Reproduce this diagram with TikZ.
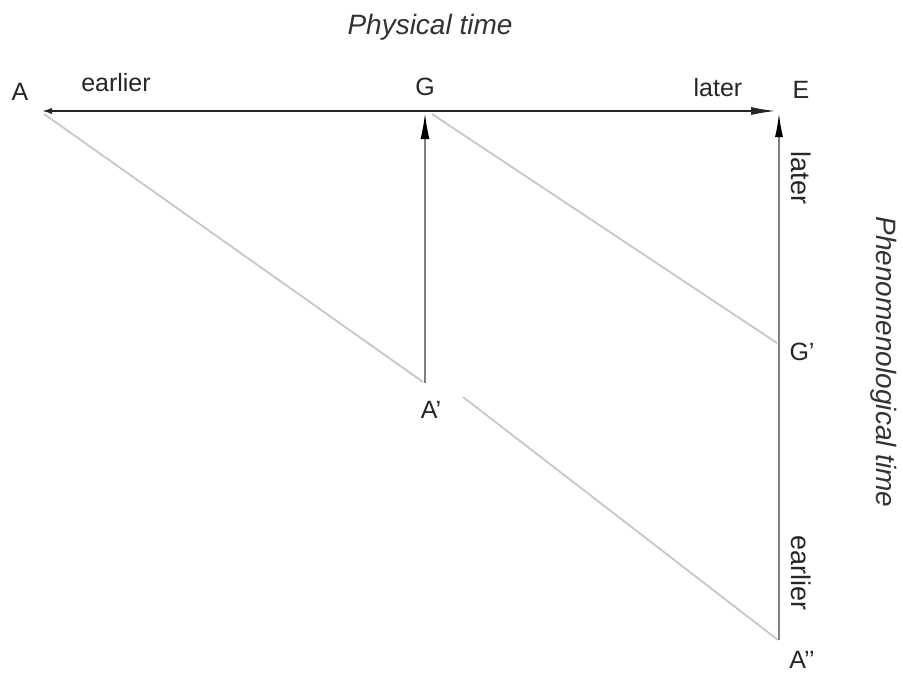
\documentclass[tikz,border=0pt]{standalone}
\usepackage{fontspec}
\setmainfont{Liberation Sans}
\usetikzlibrary{arrows.meta}
\begin{document}
\begin{tikzpicture}[x=1pt,y=-1pt,
  lbl/.style={font=\fontsize{25}{30}\selectfont, inner sep=0pt, text=black!85},
  vlbl/.style={font=\fontsize{27}{30}\selectfont, inner sep=0pt, text=black!85, rotate=-90},
  ital/.style={font=\fontsize{28}{32}\selectfont\itshape, inner sep=0pt, text=black!80},
  hline/.style={draw=black!85, line width=2.8pt},
  vline/.style={draw=black!50, line width=1.6pt},
  dline/.style={draw=black!22, line width=1.8pt}]
\useasboundingbox[fill=white] (0,0) rectangle (903,673);
% points
\coordinate (pA) at (40,111);
\coordinate (pE) at (779,111);
\coordinate (pEv) at (779,113);
\coordinate (pGv) at (425,113);
\coordinate (pAp) at (425,383);
\coordinate (pApp) at (779,640);
\coordinate (dA) at (44,114);
\coordinate (dAp) at (423,382);
\coordinate (dG) at (432,114);
\coordinate (dGp) at (777,343);
\coordinate (dAq) at (463,397);
\coordinate (dApp) at (778,640);
% diagonals
\draw[dline] (dA) -- (dAp);
\draw[dline] (dG) -- (dGp);
\draw[dline] (dAq) -- (dApp);
% verticals
\draw[vline, -{Latex[length=26pt,width=9pt,black]}] (pAp) -- (pGv);
\draw[vline, -{Latex[length=24pt,width=8pt,black]}] (pApp) -- (pEv);
% horizontal
\draw[hline, {Latex[length=12pt,width=6pt]}-{Latex[length=28pt,width=8pt]}] (pA) -- (pE);
% labels
\node[lbl] (lA) at (20,92) {A};
\node[lbl] (lear) at (116,83) {earlier};
\node[lbl] (lG) at (425,87) {G};
\node[lbl] (llat) at (718,88) {later};
\node[lbl] (lE) at (801,90) {E};
\node[vlbl] (vlat) at (801,178) {later};
\node[vlbl] (vear) at (801,573) {earlier};
\node[lbl] (lGp) at (802,352) {G'};
\node[lbl] (lAp) at (431,410) {A'};
\node[lbl] (lApp) at (802,660) {A'{}'};
\node[ital] (phys) at (430,27) {Physical time};
\node[ital, rotate=-90] (phen) at (884,362) {Phenomenological time};
\end{tikzpicture}
\end{document}
